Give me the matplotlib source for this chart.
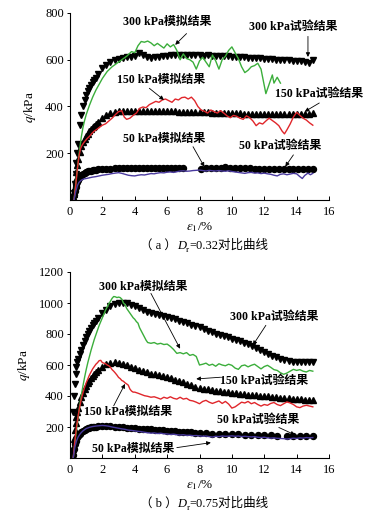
import matplotlib
matplotlib.use("Agg")
import matplotlib.pyplot as plt
import numpy as np

plt.rcParams['mathtext.fontset'] = 'stix'
plt.rcParams['font.family'] = ['Liberation Serif', 'Noto Sans CJK SC']
fam = ['Liberation Serif', 'Noto Sans CJK SC']

# ---------------- data ----------------
# strain grid of the test points (%)
eps_test = [0.2, 0.25, 0.3, 0.35, 0.4, 0.45, 0.5, 0.6, 0.7, 0.8, 0.9, 1.0, 1.1, 1.2, 1.3, 1.4, 1.5, 1.6, 1.75,
            2.0, 2.25, 2.5, 2.75, 3.0, 3.25, 3.5, 3.75, 4.0, 4.25, 4.5, 4.75, 5.0, 5.25, 5.5, 5.75, 6.0, 6.25,
            6.5, 6.75, 7.0, 7.25, 7.5, 7.75, 8.0, 8.25, 8.5, 8.75, 9.0, 9.25, 9.5, 9.75, 10.0, 10.25, 10.5,
            10.75, 11.0, 11.25, 11.5, 11.75, 12.0, 12.25, 12.5, 12.75, 13.0, 13.25, 13.5, 13.75, 14.0, 14.25,
            14.5, 14.75, 15.0]

# (a) Dr=0.32, test
a_test300 = [5, 30, 70, 110, 160, 200, 240, 320, 365, 400, 428, 449, 466, 480, 493, 504, 513, 523, 538,
             565, 578, 590, 598, 602, 606, 610, 613, 615, 628, 622, 612, 606, 610, 612, 615, 618, 620,
             620, 619, 620, 621, 620, 619, 620, 618, 619, 617, 618, 616, 614, 615, 612, 612, 610,
             611, 608, 608, 606, 606, 605, 603, 602, 601, 600, 598, 597, 596, 595, 594,
             592, 588, 598]
a_test150 = [0, 25, 55, 90, 120, 150, 175, 205, 230, 250, 262, 272, 283, 295, 303, 311, 318, 325, 334,
             352, 362, 371, 377, 380, 381, 381, 381, 380, 381, 380, 380, 380, 380, 380, 379, 380, 379,
             379, 378, 378, 378, 377, 377, 376, 375, 375, 374, 374, 373, 373, 372, 372, 371, 371,
             370, 370, 370, 369, 369, 368, 368, 368, 367, 367, 367, 366, 366, 367, 367,
             368, 369, 372]
a_test50 = [0, 20, 40, 55, 68, 78, 86, 97, 105, 111, 116, 119, 122, 124, 126, 128, 129, 130, 131,
            133, 134, 134, 135, 135, 135, 135, 135, 135, 135, 135, 135, 135, 135, 135, 135, 135, 135,
            135, 135, 135]
eps_a50_late = [8.1, 8.4, 8.7, 9.0, 9.3, 9.6, 9.9, 10.2, 10.5, 10.8, 11.1, 11.4, 11.7, 12.0, 12.3, 12.6,
                12.9, 13.2, 13.5, 13.8, 14.1, 14.4, 14.7, 15.0]
a_test50_late = [134, 135, 135, 136, 138, 140, 137, 136, 135, 135, 135, 134, 134, 134, 134, 134,
                 134, 134, 133, 133, 133, 133, 133, 133]

# (a) Dr=0.32, simulation
a_eps300 = [0.25, 0.3, 0.4, 0.5, 0.6, 0.7, 0.8, 0.9, 1.0, 1.2, 1.4, 1.6, 1.8, 2.0, 2.3, 2.6, 2.9, 3.2, 3.5,
            3.8, 4.0, 4.2, 4.4, 4.6, 4.8, 5.0, 5.2, 5.4, 5.6, 5.8, 6.0, 6.2, 6.4, 6.6, 6.8, 7.0, 7.2, 7.4,
            7.6, 7.8, 8.0, 8.2, 8.4, 8.6, 8.8, 9.0, 9.2, 9.4, 9.6, 9.8, 10.0, 10.2, 10.4, 10.6, 10.8, 11.0,
            11.2, 11.4, 11.6, 11.8, 12.0, 12.1, 12.3, 12.5, 12.6, 12.8, 13.0]
a_sim300 = [0, 30, 100, 160, 220, 270, 310, 340, 365, 405, 440, 470, 495, 520, 550, 570, 585, 600, 615,
            635, 630, 660, 678, 675, 680, 672, 660, 670, 660, 650, 668, 655, 665, 640, 600, 625, 605, 600,
            590, 560, 595, 610, 590, 570, 620, 595, 560, 600, 615, 640, 655, 630, 605, 570, 545, 555,
            570, 575, 585, 560, 490, 455, 495, 535, 500, 525, 500]
a_eps150 = [0.25, 0.35, 0.45, 0.55, 0.65, 0.75, 0.9, 1.05, 1.2, 1.35, 1.5, 1.65, 1.8, 2.0, 2.2, 2.4, 2.6,
            2.8, 3.0, 3.2, 3.35, 3.5, 3.7, 3.9, 4.1, 4.3, 4.5, 4.7, 4.9, 5.1, 5.3, 5.5, 5.7, 5.9, 6.1, 6.3,
            6.5, 6.7, 6.9, 7.1, 7.3, 7.5, 7.7, 7.9, 8.1, 8.3, 8.5, 8.7, 8.9, 9.1, 9.3, 9.5, 9.7, 9.9,
            10.1, 10.3, 10.5, 10.7, 10.9, 11.1, 11.3, 11.5, 11.7, 11.9, 12.1, 12.3, 12.5, 12.7, 12.9,
            13.1, 13.25, 13.4, 13.6, 13.8, 14.0, 14.2, 14.4, 14.6, 14.8, 15.0]
a_sim150 = [0, 60, 130, 185, 220, 235, 250, 262, 272, 285, 295, 302, 310, 320, 326, 338, 350,
            365, 378, 382, 355, 345, 350, 362, 372, 392, 398, 395, 408, 415, 422, 418, 428, 432, 425, 418,
            432, 428, 438, 440, 432, 440, 425, 400, 385, 380, 372, 385, 378, 372, 382, 372, 360, 352,
            362, 358, 350, 345, 360, 352, 338, 318, 330, 325, 338, 350, 340, 330, 318,
            295, 283, 300, 325, 355, 375, 362, 350, 342, 330, 320]
a_eps50 = [0.25, 0.35, 0.45, 0.55, 0.7, 0.85, 1.0, 1.2, 1.4, 1.6, 1.8, 2.0, 2.2, 2.4, 2.6, 2.8, 3.0, 3.2,
           3.4, 3.6, 3.8, 4.0, 4.2, 4.4, 4.6, 4.8, 5.0, 5.2, 5.4, 5.6, 5.8, 6.0, 6.2, 6.4, 6.6, 6.8, 7.0,
           7.2, 7.4, 7.6, 7.8, 8.0, 8.2, 8.4, 8.6, 8.8, 9.0, 9.2, 9.4, 9.6, 9.8, 10.0, 10.2, 10.4, 10.6,
           10.8, 11.0, 11.2, 11.4, 11.6, 11.8, 12.0, 12.2, 12.4, 12.6, 12.8, 13.0, 13.2, 13.4, 13.6, 13.8,
           14.0, 14.2, 14.35, 14.5, 14.7, 14.85, 15.0]
a_sim50 = [0, 35, 60, 75, 85, 90, 92, 95, 98, 100, 103, 106, 108, 110, 113, 115, 117, 114,
           110, 106, 104, 103, 106, 108, 107, 110, 113, 112, 115, 117, 116, 119, 120, 118, 121, 124, 125,
           123, 124, 126, 127, 128, 126, 124, 127, 125, 124, 126, 124, 123, 125, 122, 120, 118, 116,
           114, 117, 118, 115, 116, 113, 115, 112, 110, 106, 103, 110, 112, 108, 111, 114,
           112, 100, 92, 105, 115, 108, 114]

# (b) Dr=0.75, test
b_test300 = [300, 400, 480, 540, 590, 620, 640, 670, 700, 730, 755, 780, 800, 820, 838, 855, 870, 885, 903,
             935, 958, 978, 992, 1000, 1001, 998, 990, 980, 968, 957, 945, 937, 930, 925, 918, 912, 905,
             896, 887, 878, 869, 860, 852, 845, 834, 822, 811, 800, 792, 785, 778, 770, 761, 752,
             744, 735, 722, 710, 697, 685, 672, 660, 650, 640, 632, 625, 620, 618, 617,
             618, 619, 620]
b_test150 = [60, 120, 180, 225, 265, 295, 320, 360, 395, 420, 445, 465, 485, 500, 515, 528, 540, 552, 565,
             590, 605, 615, 617, 612, 605, 597, 588, 578, 568, 560, 552, 545, 540, 535, 530, 522, 514,
             506, 498, 490, 480, 470, 461, 452, 447, 442, 438, 435, 431, 428, 425, 422, 418, 415,
             411, 408, 406, 404, 402, 400, 397, 394, 391, 388, 386, 384, 382, 380, 378,
             376, 374, 372]
b_test50 = [20, 60, 90, 110, 125, 135, 145, 158, 168, 176, 182, 187, 191, 194, 197, 199, 201, 203, 204,
            205, 205, 204, 202, 200, 198, 196, 194, 192, 190, 188, 186, 184, 182, 180, 178, 176, 174,
            172, 170, 168, 166, 165, 164, 163]
eps_b50_late = [8.4, 8.8, 9.2, 9.6, 10.0, 10.4, 10.8, 11.2, 11.6, 12.0, 12.4, 12.8, 13.4, 13.8, 14.2,
                14.6, 15.0]
b_test50_late = [160, 158, 157, 155, 153, 152, 150, 149, 148, 147, 146, 145, 143, 142, 142, 142, 142]

# (b) Dr=0.75, simulation
b_eps300 = [0.2, 0.3, 0.4, 0.5, 0.6, 0.7, 0.8, 0.9, 1.0, 1.1, 1.2, 1.3, 1.4, 1.5, 1.6, 1.7, 1.8, 1.9, 2.0,
            2.1, 2.2, 2.3, 2.4, 2.5, 2.6, 2.7, 2.8, 2.9, 3.0, 3.1, 3.2, 3.3, 3.4, 3.5, 3.6, 3.7, 3.8, 3.9,
            4.0, 4.1, 4.2, 4.3, 4.4, 4.5, 4.6, 4.7, 4.8, 5.0, 5.2, 5.4, 5.6, 5.8, 6.0, 6.2, 6.4, 6.6, 6.8,
            7.0, 7.2, 7.4, 7.6, 7.8, 8.0, 8.2, 8.4, 8.6, 8.8, 9.0, 9.2, 9.4, 9.6, 9.8, 10.0, 10.2, 10.4,
            10.6, 10.8, 11.0, 11.2, 11.4, 11.6, 11.8, 12.0, 12.2, 12.4, 12.6, 12.8, 13.0, 13.2, 13.4,
            13.6, 13.8, 14.0, 14.2, 14.4, 14.6, 14.8, 15.0]
b_sim300 = [0, 95, 180, 260, 340, 405, 465, 520, 570, 615, 655, 695, 730, 765, 795, 825, 855, 880, 905,
            930, 955, 975, 995, 1012, 1030, 1042, 1040, 1035, 1038, 1035, 1025, 1000, 990, 965, 950, 935,
            920, 905, 895, 880, 870, 840, 820, 800, 780, 760, 745, 740, 745, 735, 740, 732, 735, 720,
            700, 675, 680, 672, 680, 662, 668, 655, 600, 605, 612, 598, 605, 592, 608, 600, 595, 605,
            598, 580, 572, 595, 600, 588, 598, 605, 590, 575, 590, 598, 585, 570, 565, 550, 540, 548,
            560, 572, 565, 570, 560, 555, 565, 560]
b_eps150 = [0.2, 0.3, 0.4, 0.5, 0.6, 0.7, 0.8, 0.9, 1.0, 1.1, 1.2, 1.3, 1.4, 1.5, 1.6, 1.7, 1.8, 1.9, 2.0,
            2.1, 2.2, 2.3, 2.4, 2.5, 2.6, 2.7, 2.8, 2.9, 3.0, 3.1, 3.2, 3.3, 3.4, 3.5, 3.6, 3.7, 3.8, 3.9,
            4.0, 4.2, 4.4, 4.6, 4.8, 5.0, 5.2, 5.4, 5.6, 5.8, 6.0, 6.2, 6.4, 6.6, 6.8, 7.0, 7.2, 7.4, 7.6,
            7.8, 8.0, 8.2, 8.4, 8.6, 8.8, 9.0, 9.2, 9.4, 9.6, 9.8, 10.0, 10.2, 10.4, 10.6, 10.8, 11.0,
            11.2, 11.4, 11.6, 11.8, 12.0, 12.2, 12.4, 12.6, 12.8, 13.0, 13.2, 13.4, 13.6, 13.8, 14.0,
            14.2, 14.4, 14.6, 14.8, 15.0]
b_sim150 = [0, 110, 200, 270, 330, 380, 420, 455, 485, 510, 535, 555, 575, 590, 605, 615, 628, 630, 615,
            612, 608, 600, 595, 585, 570, 560, 548, 535, 520, 512, 500, 495, 485, 478, 470, 445, 432, 425,
            425, 418, 410, 402, 398, 392, 395, 388, 380, 392, 385, 395, 385, 380, 392, 380, 385, 372, 368,
            360, 350, 365, 372, 360, 352, 360, 368, 352, 365, 348, 322, 330, 345, 360, 355, 365,
            350, 358, 345, 335, 345, 340, 352, 358, 345, 338, 350, 362, 355, 345, 330,
            325, 335, 340, 335, 330]
b_eps50 = [0.2, 0.3, 0.4, 0.5, 0.6, 0.7, 0.8, 0.9, 1.0, 1.2, 1.4, 1.6, 1.8, 2.0, 2.2, 2.4, 2.6, 2.8, 3.0,
           3.2, 3.4, 3.6, 3.8, 4.0, 4.2, 4.4, 4.6, 4.8, 5.0, 5.2, 5.4, 5.6, 5.8, 6.0, 6.2, 6.4, 6.6, 6.8,
           7.0, 7.2, 7.4, 7.6, 7.8, 8.0, 8.2, 8.4, 8.6, 8.8, 9.0, 9.2, 9.4, 9.6, 9.8, 10.0, 10.2, 10.4,
           10.6, 10.8, 11.0, 11.2, 11.4, 11.6, 11.8, 12.0, 12.2, 12.4, 12.6, 12.8, 13.0, 13.2, 13.4,
           13.6, 13.8, 14.0, 14.2, 14.4, 14.6, 14.8, 15.0]
b_sim50 = [0, 70, 110, 135, 152, 165, 175, 183, 190, 198, 203, 206, 208, 210, 208, 205, 200, 196, 192,
           188, 185, 180, 178, 175, 172, 170, 166, 163, 160, 162, 158, 160, 156, 155, 152, 154, 150, 148,
           150, 146, 147, 144, 145, 143, 140, 142, 138, 135, 140, 138, 142, 140, 141, 143, 140, 142,
           138, 140, 138, 136, 138, 134, 132, 134, 130, 128, 130, 127, 126, 125, 122,
           125, 128, 126, 130, 128, 132, 130, 132]

GREEN = '#3bae3b'
RED = '#e0262b'
PURPLE = '#4a3a9e'

fig = plt.figure(figsize=(3.9, 5.14), dpi=100)
ax1 = fig.add_axes([70/390, 1 - 200/514, 259/390, 187/514])
ax2 = fig.add_axes([70/390, 1 - 458/514, 259/390, 186/514])

n50a = len(a_test50)
n50b = len(b_test50)
mk = dict(color='k', linestyle='none', zorder=2)
ln = dict(lw=1.0, zorder=3)

ax1.plot(eps_test, a_test300, marker='v', ms=5, **mk)
ax1.plot(eps_test, a_test150, marker='^', ms=5, **mk)
ax1.plot(eps_test[:n50a], a_test50, marker='o', ms=4.3, **mk)
ax1.plot(eps_a50_late, a_test50_late, marker='o', ms=4.3, **mk)
ax1.plot(a_eps300, a_sim300, color=GREEN, **ln)
ax1.plot(a_eps150, a_sim150, color=RED, **ln)
ax1.plot(a_eps50, a_sim50, color=PURPLE, **ln)

ax2.plot(eps_test, b_test300, marker='v', ms=5, **mk)
ax2.plot(eps_test, b_test150, marker='^', ms=5, **mk)
ax2.plot(eps_test[:n50b], b_test50, marker='o', ms=4.3, **mk)
ax2.plot(eps_b50_late, b_test50_late, marker='o', ms=4.3, **mk)
ax2.plot(b_eps300, b_sim300, color=GREEN, **ln)
ax2.plot(b_eps150, b_sim150, color=RED, **ln)
ax2.plot(b_eps50, b_sim50, color=PURPLE, **ln)

for ax, ymax, yt in [(ax1, 800, [200, 400, 600, 800]), (ax2, 1200, [200, 400, 600, 800, 1000, 1200])]:
    ax.set_xlim(0, 16)
    ax.set_ylim(0, ymax)
    ax.set_xticks([0, 2, 4, 6, 8, 10, 12, 14, 16])
    ax.set_yticks(yt)
    ax.spines['top'].set_visible(False)
    ax.spines['right'].set_visible(False)
    ax.spines['left'].set_linewidth(0.8)
    ax.spines['bottom'].set_linewidth(0.8)
    ax.tick_params(axis='x', direction='in', length=3, width=0.7, labelsize=9, pad=4)
    ax.tick_params(axis='y', direction='out', length=2.5, width=0.7, labelsize=9, pad=2)
    ax.set_xlabel(r'$\varepsilon_1$/%', fontsize=9.5, labelpad=2)
    ax.set_ylabel(r'$q$/kPa', fontsize=9.5, labelpad=5)
    ax.patch.set_alpha(0)

arrow = dict(arrowstyle='-|>', lw=0.6, color='k', mutation_scale=6, shrinkA=0, shrinkB=0)
tk = dict(fontsize=8.6, fontweight='bold', family=fam, ha='center', va='center')

def note(ax, s, txy, start, end):
    ax.text(txy[0], txy[1], s, **tk)
    ax.annotate('', xy=end, xytext=start, arrowprops=arrow)

note(ax1, '300 kPa模拟结果', (6.0, 762), (7.2, 712), (6.5, 664))
note(ax1, '300 kPa试验结果', (13.8, 740), (14.7, 700), (14.7, 612))
note(ax1, '150 kPa模拟结果', (5.6, 513), (4.9, 478), (5.8, 428))
note(ax1, '150 kPa试验结果', (15.4, 452), (15.4, 415), (14.5, 378))
note(ax1, '50 kPa模拟结果', (5.8, 263), (7.6, 228), (8.3, 142))
note(ax1, '50 kPa试验结果', (13.0, 232), (13.8, 193), (13.3, 143))

note(ax2, '300 kPa模拟结果', (4.5, 1104), (5.0, 1062), (6.8, 705))
note(ax2, '300 kPa试验结果', (12.6, 910), (12.1, 856), (11.3, 728))
note(ax2, '150 kPa试验结果', (12.0, 499), (9.3, 521), (7.8, 510))
note(ax2, '150 kPa模拟结果', (3.6, 294), (2.7, 337), (3.4, 478))
note(ax2, '50 kPa试验结果', (11.6, 244), (12.9, 197), (13.9, 149))
note(ax2, '50 kPa模拟结果', (3.9, 60), (6.6, 67), (8.7, 99))

def caption(x, y, letter, dr):
    t1 = fig.text(x, y, '（ ' + letter + ' ）', fontsize=9, family=fam, va='bottom', ha='left')
    t2 = ax1.annotate('D', xy=(1, 0), xycoords=t1, fontsize=9, style='italic', family=fam,
                      va='bottom', ha='left', annotation_clip=False)
    t3 = ax1.annotate('r', xy=(1, 0), xycoords=t2, xytext=(0, -1.5), textcoords='offset points',
                      fontsize=6.5, family=fam, va='bottom', ha='left', annotation_clip=False)
    ax1.annotate('=' + dr + '对比曲线', xy=(1, 0), xycoords=(t3, t2), fontsize=9, family=fam,
                 va='bottom', ha='left', annotation_clip=False)

caption(140/390, 1 - 252/514, 'a', '0.32')
caption(140/390, 1 - 510/514, 'b', '0.75')

fig.savefig('out.png', dpi=100)
